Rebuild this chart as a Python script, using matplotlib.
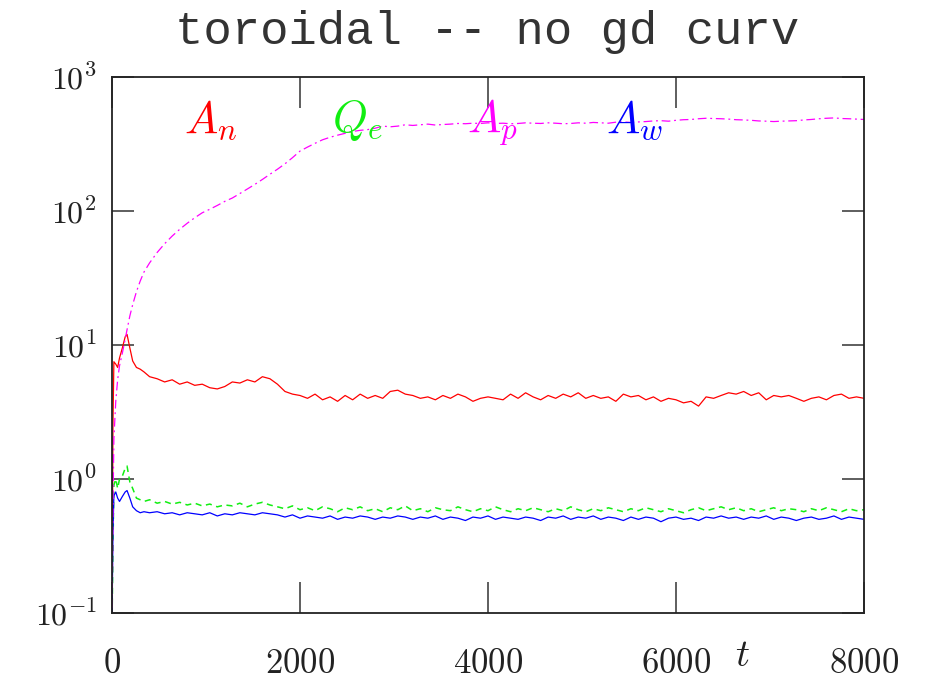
import numpy as np
import matplotlib
matplotlib.use("Agg")
import matplotlib.pyplot as plt

plt.rcParams['mathtext.fontset'] = 'cm'

# ---- data ----
t_early = [0, 10, 20, 40, 60, 80, 110, 140, 160, 190, 220, 260, 300, 340]
t_late = np.arange(400, 8001, 80)

A_n_early = [0.08, 2.5, 7.5, 7.2, 6.8, 8.0, 9.5, 11.5, 12.0, 9.5, 7.6, 6.8, 6.6, 6.3]
A_n_late = [
    5.8, 5.6, 5.3, 5.5, 5.1, 5.3, 5.0, 5.1,
    4.8, 4.7, 4.9, 5.3, 5.2, 5.5, 5.3, 5.8,
    5.6, 5.1, 4.5, 4.3, 4.2, 4.0, 4.3, 3.9,
    4.1, 3.8, 4.2, 3.9, 4.3, 4.0, 4.2, 4.0,
    4.5, 4.6, 4.3, 4.2, 4.0, 4.1, 3.9, 4.2,
    4.0, 4.3, 4.1, 3.8, 4.0, 4.1, 4.0, 3.9,
    4.3, 4.0, 4.4, 4.1, 3.9, 4.2, 4.0, 4.3,
    4.1, 4.4, 4.0, 4.2, 4.0, 4.1, 3.8, 4.3,
    4.1, 4.2, 3.9, 4.1, 3.8, 4.0, 3.9, 3.7,
    3.8, 3.5, 4.1, 4.0, 4.2, 4.4, 4.3, 4.5,
    4.2, 4.4, 3.9, 4.2, 4.1, 4.2, 4.0, 3.8,
    4.0, 4.1, 3.9, 4.2, 4.3, 4.0, 4.1, 4.0,
]

Q_e_early = [0.08, 0.3, 0.9, 1.0, 0.85, 1.0, 1.05, 1.2, 1.25, 0.95, 0.85, 0.72, 0.70, 0.68]
Q_e_late = [
    0.70, 0.66, 0.68, 0.65, 0.67, 0.64, 0.66, 0.63,
    0.65, 0.62, 0.64, 0.63, 0.66, 0.62, 0.65, 0.67,
    0.64, 0.62, 0.60, 0.63, 0.59, 0.61, 0.58, 0.62,
    0.60, 0.57, 0.61, 0.59, 0.62, 0.58, 0.60, 0.57,
    0.61, 0.59, 0.63, 0.58, 0.60, 0.57, 0.61, 0.59,
    0.58, 0.62, 0.59, 0.57, 0.60, 0.58, 0.62, 0.59,
    0.57, 0.60, 0.58, 0.61, 0.59, 0.57, 0.60, 0.58,
    0.62, 0.59, 0.57, 0.60, 0.58, 0.61, 0.59, 0.57,
    0.60, 0.58, 0.61, 0.59, 0.57, 0.60, 0.58, 0.56,
    0.59, 0.61, 0.58, 0.60, 0.62, 0.59, 0.61, 0.58,
    0.60, 0.57, 0.59, 0.61, 0.58, 0.60, 0.59, 0.57,
    0.60, 0.58, 0.61, 0.59, 0.57, 0.60, 0.58, 0.59,
]

A_p_early = [0.08, 0.6, 2.0, 3.8, 5.5, 7.0, 8.7, 11.0, 13.0, 16.5, 20.0, 25.0, 30.0, 35.0]
A_p_late = [
    41, 49, 57, 65, 73, 81, 89, 97,
    103, 110, 118, 125, 135, 146, 158, 172,
    188, 205, 225, 250, 280, 300, 320, 340,
    355, 368, 380, 392, 400, 405, 415, 430,
    425, 430, 440, 435, 440, 445, 438, 442,
    445, 450, 448, 452, 450, 455, 450, 452,
    448, 450, 455, 452, 450, 455, 452, 448,
    450, 455, 452, 458, 455, 452, 460, 462,
    458, 462, 465, 470, 472, 468, 475, 480,
    482, 488, 492, 490, 488, 485, 480, 478,
    475, 470, 468, 465, 468, 470, 472, 478,
    482, 488, 492, 495, 490, 488, 485, 482,
]

A_w_early = [0.08, 0.4, 0.75, 0.80, 0.72, 0.68, 0.74, 0.80, 0.82, 0.72, 0.62, 0.58, 0.56, 0.57]
A_w_late = [
    0.56, 0.57, 0.55, 0.56, 0.54, 0.56, 0.55, 0.54,
    0.56, 0.53, 0.55, 0.54, 0.56, 0.55, 0.54, 0.56,
    0.55, 0.54, 0.52, 0.54, 0.51, 0.53, 0.52, 0.51,
    0.53, 0.50, 0.52, 0.51, 0.53, 0.52, 0.50, 0.52,
    0.51, 0.53, 0.52, 0.50, 0.52, 0.51, 0.53, 0.50,
    0.52, 0.51, 0.49, 0.52, 0.51, 0.53, 0.50, 0.52,
    0.51, 0.50, 0.52, 0.51, 0.49, 0.52, 0.51, 0.53,
    0.50, 0.52, 0.51, 0.53, 0.50, 0.52, 0.51, 0.49,
    0.52, 0.50, 0.52, 0.51, 0.48, 0.51, 0.52, 0.50,
    0.51, 0.49, 0.52, 0.51, 0.53, 0.51, 0.52, 0.50,
    0.52, 0.51, 0.53, 0.50, 0.52, 0.51, 0.49, 0.51,
    0.52, 0.50, 0.51, 0.53, 0.50, 0.52, 0.51, 0.50,
]

x_ticks = [0, 2000, 4000, 6000, 8000]
x_ticklabels = [r'$0$', r'$2000$', r'$4000$', r'$6000$', r'$8000$']
y_ticks = [0.1, 1, 10, 100, 1000]
y_ticklabels = [r'$10^{-1}$', r'$10^{0}$', r'$10^{1}$', r'$10^{2}$', r'$10^{3}$']

t = np.concatenate([t_early, t_late])
A_n = np.concatenate([A_n_early, A_n_late])
Q_e = np.concatenate([Q_e_early, Q_e_late])
A_p = np.concatenate([A_p_early, A_p_late])
A_w = np.concatenate([A_w_early, A_w_late])

# ---- figure ----
fig = plt.figure(figsize=(9.3, 6.8), dpi=100)
ax = fig.add_axes([112/930, 67/680, 752/930, 536/680])

ax.plot(t, A_n, color='#ff0000', lw=0.9)
ax.plot(t, Q_e, color='#11ee11', lw=1.1, ls=(0, (4, 3)))
ax.plot(t, A_w, color='#0000ff', lw=0.9)
ax.plot(t, A_p, color='#ff00ff', lw=0.9, ls=(0, (7, 3, 1.5, 3)))

ax.set_yscale('log')
ax.set_xlim(0, 8000)
ax.set_ylim(0.1, 1000)
ax.set_xticks(x_ticks)
ax.set_xticklabels(x_ticklabels)
ax.set_yticks(y_ticks)
ax.set_yticklabels(y_ticklabels)
ax.minorticks_off()
ax.yaxis.set_minor_locator(matplotlib.ticker.NullLocator())

ax.tick_params(axis='x', which='major', direction='in', length=22, width=1.1,
               top=True, bottom=True, color='#333333', pad=24, labelsize=25,
               labelcolor='#222222')
ax.tick_params(axis='y', which='major', direction='in', length=16, width=1.1,
               left=True, right=True, color='#333333', pad=11, labelsize=23,
               labelcolor='#222222')
for s in ax.spines.values():
    s.set_linewidth(1.3)
    s.set_color('#222222')

fs_lab = 32
ylab = (613 - 132) / 536
ax.text((184-112)/752, ylab, r'$A_n$', color='#ff0000', fontsize=fs_lab,
        transform=ax.transAxes, ha='left', va='baseline')
ax.text((332-112)/752, ylab, r'$Q_e$', color='#11ee11', fontsize=fs_lab,
        transform=ax.transAxes, ha='left', va='baseline')
ax.text((467-112)/752, ylab, r'$A_p$', color='#ff00ff', fontsize=fs_lab,
        transform=ax.transAxes, ha='left', va='baseline')
ax.text((606-112)/752, ylab, r'$A_w$', color='#0000ff', fontsize=fs_lab,
        transform=ax.transAxes, ha='left', va='baseline')

fig.text(487/930, 1 - 32/680, 'toroidal -- no gd curv', fontsize=34,
         ha='center', va='center', color='#333333', family='Liberation Mono')
fig.text(742/930, 1 - 666/680, r'$t$', fontsize=28, ha='center', va='baseline',
         color='#222222')

fig.savefig('out.png', dpi=100)
